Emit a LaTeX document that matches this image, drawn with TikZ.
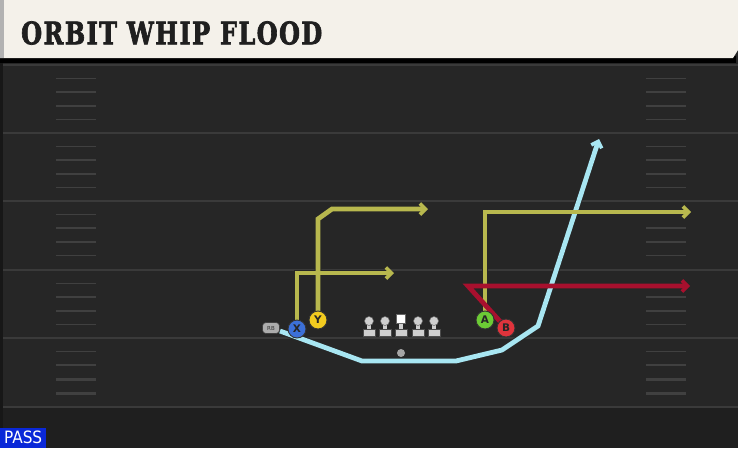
\documentclass[tikz,border=0pt]{standalone}
\usepackage{fontspec}
\setmainfont{DejaVu Sans}
\newfontfamily\titlefont[FakeBold=2.5,LetterSpace=6]{DejaVu Serif}
\newfontfamily\condfont{DejaVu Sans Condensed}
\usetikzlibrary{arrows.meta}
\definecolor{field}{HTML}{262626}
\definecolor{fieldlow}{HTML}{1F1F1F}
\definecolor{yardline}{HTML}{3A3A3A}
\definecolor{hashc}{HTML}{404040}
\definecolor{cream}{HTML}{F4F1EA}
\definecolor{olive}{HTML}{B8B84E}
\definecolor{crimson}{HTML}{A8102E}
\definecolor{skyblue}{HTML}{A8E6F2}
\definecolor{xblue}{HTML}{3C70D8}
\definecolor{yyellow}{HTML}{F2CB1F}
\definecolor{agreen}{HTML}{6CCB35}
\definecolor{bred}{HTML}{E0343C}
\definecolor{lineman}{HTML}{CFCFCF}
\definecolor{passblue}{HTML}{0A28D8}
\tikzset{
  route/.style={line width=4.8pt, line join=miter, line cap=butt},
  routeshadow/.style={line width=6.8pt, draw=black!85, line join=miter},
  tipc/.style={-{Straight Barb[length=5.5pt,width=11pt,line width=3.6pt]}},
  player/.style={circle, draw=black!80, line width=0.9pt, minimum size=18pt, inner sep=0pt, font=\bfseries\fontsize{10.5}{10.5}\selectfont, text=black!85},
  hashmark/.style={draw=hashc, line width=1.6pt},
  major/.style={draw=yardline, line width=2pt}
}
\begin{document}
\begin{tikzpicture}[x=1pt,y=-1pt]
\useasboundingbox (0,0) rectangle (738,448);
% field
\fill[field] (0,0) rectangle (738,448);
\fill[fieldlow] (0,408) rectangle (738,448);
\fill[black!40!field] (0,62) rectangle (3,448);
% yard lines
\foreach \y in {65,133,201,270,338,407} \draw[major] (3,\y) -- (738,\y);
% hash marks
\foreach \b in {65,133,201,270,338} {
  \foreach \k in {1,2,3,4} {
    \pgfmathsetmacro{\yy}{\b+\k*13.6}
    \draw[hashmark] (56,\yy) -- (96,\yy);
    \draw[hashmark] (646,\yy) -- (686,\yy);
  }
}
\foreach \yy in {380,394} {
  \draw[hashmark] (56,\yy) -- (96,\yy);
  \draw[hashmark] (646,\yy) -- (686,\yy);
}
% header
\fill[black] (0,56) -- (736,56) -- (736,63) -- (0,63) -- cycle;
\fill[cream] (0,0) -- (738,0) -- (738,50) -- (733,58) -- (0,58) -- cycle;
\fill[gray!60] (0,0) rectangle (4,58);
\node[anchor=west, inner sep=0pt, text=black!88] (title) at (21,33)
  {\resizebox{301pt}{23pt}{\titlefont\bfseries ORBIT WHIP FLOOD}};
% coordinates
\coordinate (pRB) at (271,328);
\coordinate (pX) at (297,329);
\coordinate (pY) at (318,320);
\coordinate (pA) at (485,320);
\coordinate (pB) at (506,328);
\coordinate (xc) at (297,273);
\coordinate (xe) at (394,273);
\coordinate (yc1) at (318,219);
\coordinate (yc2) at (332,209);
\coordinate (ye) at (428,209);
\coordinate (ac) at (485,212);
\coordinate (ae) at (691,212);
\coordinate (bc) at (468,286);
\coordinate (be) at (690,286);
\coordinate (r0) at (280,331);
\coordinate (r1) at (362,361);
\coordinate (r2) at (456,361);
\coordinate (r3) at (502,350);
\coordinate (r4) at (538,326);
\coordinate (re) at (599,139);
% route shadows
\draw[routeshadow] (pX) -- (xc) -- (390,273);
\draw[routeshadow] (pY) -- (yc1) -- (yc2) -- (424,209);
\draw[routeshadow] (pA) -- (ac) -- (687,212);
\draw[routeshadow] (pB) -- (bc) -- (686,286);
\draw[routeshadow] (r0) -- (r1) -- (r2) -- (r3) -- (r4) -- (597,144);
% routes
\draw[route, draw=skyblue, tipc] (r0) -- (r1) -- (r2) -- (r3) -- (r4) -- (re);
\draw[route, draw=olive, tipc] (pX) -- (xc) -- (xe);
\draw[route, draw=olive, tipc] (pY) -- (yc1) -- (yc2) -- (ye);
\draw[route, draw=olive, tipc] (pA) -- (ac) -- (ae);
\draw[route, draw=crimson, tipc] (pB) -- (bc) -- (be);
% linemen
\foreach \x/\n in {369/LT,385/LG,418/RG,434/RT} {
  \fill[lineman] (\x-2,322) rectangle (\x+2,331);
  \fill[lineman, draw=black!70, line width=0.5pt] (\x-6,329) rectangle (\x+6,336);
  \node[circle, fill=lineman, draw=black!60, line width=0.5pt, minimum size=9pt, inner sep=0pt] (\n) at (\x,321) {};
}
\fill[lineman] (399,322) rectangle (403,331);
\fill[lineman, draw=black!70, line width=0.5pt] (395,329) rectangle (407,336);
\node[rectangle, fill=white, draw=black!60, line width=0.5pt, minimum size=9pt, inner sep=0pt] (C) at (401,319) {};
% ball
\node[circle, fill=gray!70, minimum size=8pt, inner sep=0pt] (ball) at (401,353) {};
% skill players
\node[rectangle, rounded corners=3.5pt, fill=gray!65, draw=black!75, line width=0.6pt, minimum width=17pt, minimum height=11pt, inner sep=0pt, font=\fontsize{5.5}{5.5}\selectfont, text=black!80] (RB) at (pRB) {RB};
\node[player, fill=xblue] (X) at (pX) {X};
\node[player, fill=yyellow] (Y) at (pY) {Y};
\node[player, fill=agreen] (A) at (pA) {A};
\node[player, fill=bred] (B) at (pB) {B};
% pass tag
\node[anchor=south west, fill=passblue, text=white, inner sep=0pt, minimum width=46pt, minimum height=20pt, font=\condfont\fontsize{17}{17}\selectfont] (pass) at (0,448) {PASS};
\end{tikzpicture}
\end{document}
